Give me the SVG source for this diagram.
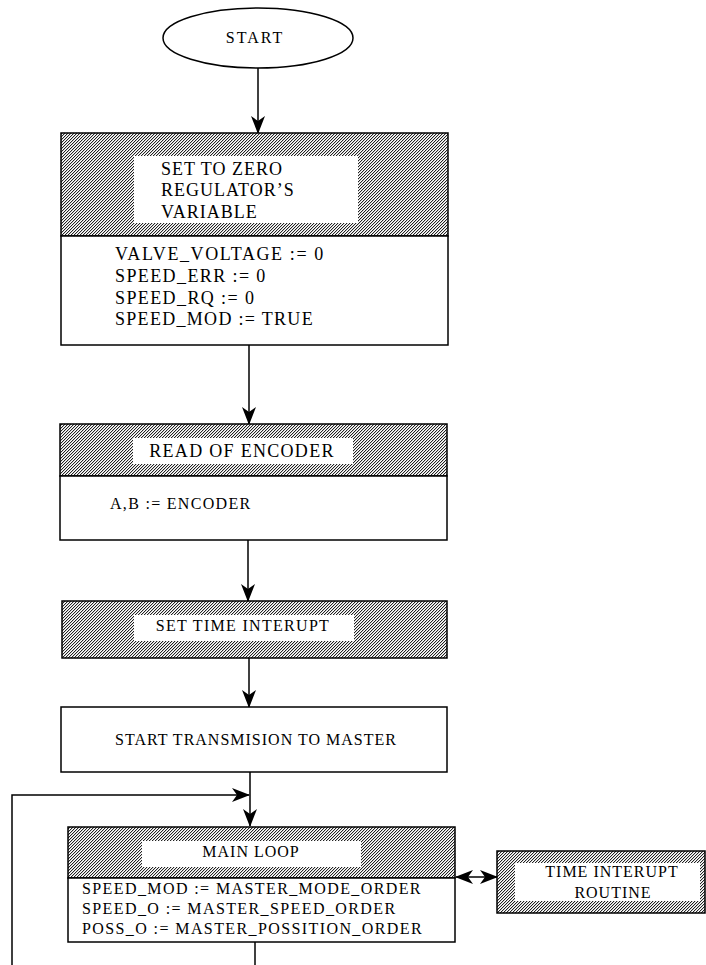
<svg xmlns="http://www.w3.org/2000/svg" width="706" height="965" viewBox="0 0 706 965">
<style>
.box{fill:#fff;stroke:#000;stroke-width:1.5}
.hatch{fill:url(#hatch);stroke:#000;stroke-width:1.5}
.lbl{fill:#fff;stroke:none}
.t{font-family:"Liberation Serif","Times New Roman",serif;fill:#000;font-size:16px;letter-spacing:1px}
.t18{font-size:18px}
.c{text-anchor:middle}
.ln{fill:none;stroke:#000;stroke-width:1.5}
</style>
<defs>
<pattern id="hatch" patternUnits="userSpaceOnUse" width="3" height="3">
<rect width="3" height="3" fill="#fff"/>
<rect x="0" y="2" width="1" height="1" fill="#222"/>
<rect x="1" y="1" width="1" height="1" fill="#222"/>
<rect x="2" y="0" width="1" height="1" fill="#222"/>
<rect x="0" y="0" width="1" height="1" fill="#ccc"/>
<rect x="1" y="2" width="1" height="1" fill="#ccc"/>
<rect x="2" y="1" width="1" height="1" fill="#ccc"/>
</pattern>
<marker id="ah" viewBox="0 0 18 14" refX="17" refY="7" markerWidth="18" markerHeight="14" markerUnits="userSpaceOnUse" orient="auto-start-reverse">
<path d="M0,0 L18,7 L0,14 L5,7 z" fill="#000"/>
</marker>
</defs>

<g id="connectors">
<line class="ln" x1="258" y1="68" x2="258" y2="133" marker-end="url(#ah)"/>
<line class="ln" x1="249" y1="345" x2="249" y2="424" marker-end="url(#ah)"/>
<line class="ln" x1="248" y1="540" x2="248" y2="601" marker-end="url(#ah)"/>
<line class="ln" x1="249" y1="658" x2="249" y2="707" marker-end="url(#ah)"/>
<line class="ln" x1="250" y1="772" x2="250" y2="826" marker-end="url(#ah)"/>
<polyline class="ln" points="12,965 12,795 249,795" marker-end="url(#ah)"/>
<line class="ln" x1="255" y1="942" x2="255" y2="965"/>
<line class="ln" x1="456" y1="877" x2="497" y2="877" marker-start="url(#ah)" marker-end="url(#ah)"/>
</g>

<g id="start">
<ellipse cx="258" cy="38" rx="95" ry="30" class="box"/>
<text class="t c" x="255" y="43" style="letter-spacing:2px">START</text>
</g>

<g id="set-zero">
<rect class="hatch" x="61" y="133" width="387" height="103"/>
<rect class="box" x="61" y="236" width="387" height="109"/>
<rect class="lbl" x="134" y="156" width="224" height="67"/>
<text class="t t18" x="161" y="175">SET TO ZERO</text>
<text class="t t18" x="161" y="196">REGULATOR’S</text>
<text class="t t18" x="161" y="218">VARIABLE</text>
<text class="t t18" x="115" y="260" style="letter-spacing:1.6px">VALVE_VOLTAGE := 0</text>
<text class="t t18" x="115" y="282" style="letter-spacing:1.4px">SPEED_ERR := 0</text>
<text class="t t18" x="115" y="304" style="letter-spacing:1.4px">SPEED_RQ := 0</text>
<text class="t t18" x="115" y="325" style="letter-spacing:1.3px">SPEED_MOD := TRUE</text>
</g>

<g id="read-encoder">
<rect class="hatch" x="60" y="424" width="387" height="52"/>
<rect class="box" x="60" y="476" width="387" height="64"/>
<rect class="lbl" x="133" y="438" width="220" height="26"/>
<text class="t t18 c" x="242" y="457" style="letter-spacing:1.3px">READ OF ENCODER</text>
<text class="t" x="110" y="509" style="letter-spacing:1.3px">A,B := ENCODER</text>
</g>

<g id="set-time-interupt">
<rect class="hatch" x="62" y="601" width="385" height="57"/>
<rect class="lbl" x="134" y="615" width="220" height="26"/>
<text class="t c" x="243" y="631" style="letter-spacing:1.3px">SET TIME INTERUPT</text>
</g>

<g id="start-transmision">
<rect class="box" x="61" y="707" width="386" height="65"/>
<text class="t" x="115" y="745">START TRANSMISION TO MASTER</text>
</g>

<g id="main-loop">
<rect class="hatch" x="68" y="827" width="387" height="51"/>
<rect class="box" x="68" y="878" width="387" height="64"/>
<rect class="lbl" x="142" y="841" width="219" height="26"/>
<text class="t c" x="251" y="857">MAIN LOOP</text>
<text class="t" x="82" y="894" style="letter-spacing:1.4px">SPEED_MOD := MASTER_MODE_ORDER</text>
<text class="t" x="82" y="914" style="letter-spacing:1.4px">SPEED_O := MASTER_SPEED_ORDER</text>
<text class="t" x="82" y="934" style="letter-spacing:1.4px">POSS_O := MASTER_POSSITION_ORDER</text>
</g>

<g id="time-interupt-routine">
<rect class="hatch" x="497" y="851" width="208" height="62"/>
<rect class="lbl" x="515" y="863" width="185" height="38"/>
<text class="t c" x="612" y="877">TIME INTERUPT</text>
<text class="t c" x="613" y="898">ROUTINE</text>
</g>
</svg>
